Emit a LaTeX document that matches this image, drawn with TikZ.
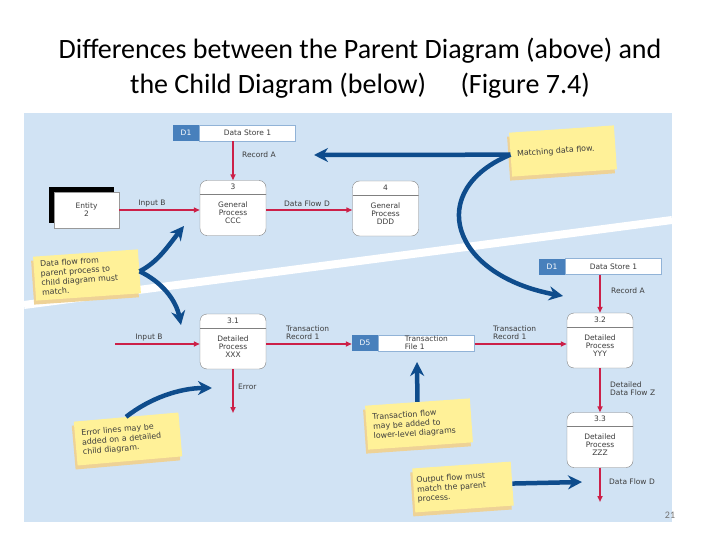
\documentclass[tikz,border=0pt]{standalone}
\usepackage{fontspec}
\setmainfont{Carlito}
\newfontfamily\dfdfont{DejaVu Sans}
\usetikzlibrary{arrows.meta, positioning, shadows}
\definecolor{panelblue}{RGB}{209,227,244}
\definecolor{flowred}{RGB}{204,32,72}
\definecolor{hintblue}{RGB}{14,76,140}
\definecolor{storeblue}{RGB}{72,128,188}
\definecolor{noteyellow}{RGB}{255,241,152}
\definecolor{notetan}{RGB}{238,210,150}
\definecolor{labelgray}{RGB}{60,60,60}

\begin{document}
\begin{tikzpicture}[
  x=1pt, y=-1pt,
  proc/.style={rectangle, draw=black!50, fill=white, rounded corners=7pt,
              minimum width=66pt, minimum height=55pt, align=center,
              font=\dfdfont\fontsize{7.5}{8}\selectfont, text=labelgray,
              path picture={\draw[black!50] (path picture bounding box.north west)
                ++(0,-14pt) -- ++(80pt,0);}},
  ent/.style={rectangle, draw=black!40, fill=white, minimum width=65pt,
              minimum height=36pt, align=center, text=labelgray,
              font=\dfdfont\fontsize{7.5}{8}\selectfont,
              general shadow={fill=black, shadow xshift=-5pt, shadow yshift=5pt}},
  sid/.style={rectangle, fill=storeblue, text=white, minimum width=26pt,
              minimum height=16pt, inner sep=1pt,
              font=\dfdfont\fontsize{7.5}{8}\selectfont},
  sname/.style={rectangle, draw=storeblue!60, fill=white, minimum width=96pt,
              minimum height=16pt, inner ysep=1pt, align=center, text=labelgray,
              font=\dfdfont\fontsize{7.5}{8}\selectfont},
  flow/.style={-{Triangle[length=6pt, width=5pt]}, draw=flowred, line width=2pt},
  lbl/.style={font=\dfdfont\fontsize{7.5}{8}\selectfont, text=labelgray,
              align=left, inner sep=1pt},
  note/.style={rectangle, fill=noteyellow, minimum width=105pt, minimum height=44pt,
              text width=92pt, align=left, text=labelgray,
              font=\dfdfont\fontsize{7.9}{9.5}\selectfont,
              general shadow={fill=notetan, shadow xshift=-2pt, shadow yshift=-4pt}},
  hint/.style={-{Stealth[length=14pt, width=14pt]}, draw=hintblue, line width=4.5pt}
]
  \useasboundingbox (0,0) rectangle (720,540);

  \node[font=\fontsize{28}{35}\selectfont, align=center] (title) at (360,68)
       {Differences between the Parent Diagram (above) and\\
        the Child Diagram (below)\quad\ (Figure 7.4)};

  \fill[panelblue] (24,113) rectangle (672,522);
  \draw[white, line width=8pt] (24,305) -- (672,220);

  % parent diagram
  \node[sid] (d1id) at (186,133) {D1};
  \node[sname, right=0pt of d1id] (d1) {Data Store 1};
  \node[ent] (ent) at (86.5,210) {Entity\\2};
  \node[proc] (p3) at (233,208) {3\\[10pt]General\\Process\\CCC\rule[-8pt]{0pt}{0pt}};
  \node[proc] (p4) at (385.5,208.5) {4\\[10pt]General\\Process\\DDD\rule[-8pt]{0pt}{0pt}};

  \draw[flow] (d1.south -| p3.north) -- (p3.north);
  \draw[flow] (ent.east) -- (p3.west |- ent.east);
  \draw[flow] (p3.east |- ent.east) -- (p4.west |- ent.east);

  \node[lbl, anchor=west] (lRecA) at (241,155) {Record A};
  \node[lbl] (lInB) at (152,204) {Input B};
  \node[lbl] (lFlowD) at (307,204) {Data Flow D};

  % child diagram
  \node[sid] (d1bid) at (552,266.5) {D1};
  \node[sname, right=0pt of d1bid] (d1b) {Data Store 1};
  \node[sid] (d5id) at (365,343) {D5};
  \node[sname, right=0pt of d5id, align=left] (d5) {Transaction\\File 1};
  \node[proc] (p31) at (233,341.5) {3.1\\[10pt]Detailed\\Process\\XXX\rule[-8pt]{0pt}{0pt}};
  \node[proc] (p32) at (600,340.5) {3.2\\[10pt]Detailed\\Process\\YYY\rule[-8pt]{0pt}{0pt}};
  \node[proc] (p33) at (600,440) {3.3\\[10pt]Detailed\\Process\\ZZZ\rule[-8pt]{0pt}{0pt}};
  \coordinate (inB) at (115,344);
  \coordinate (err) at (233,413);
  \coordinate (outD) at (600,502);

  \draw[flow] (inB) -- (p31.west |- inB);
  \draw[flow] (p31.east |- inB) -- (d5id.west |- inB);
  \draw[flow] (d5.east |- inB) -- (p32.west |- inB);
  \draw[flow] (d1b.south -| p32.north) -- (p32.north);
  \draw[flow] (p32.south) -- (p33.north);
  \draw[flow] (p33.south) -- (outD);
  \draw[flow] (p31.south) -- (err);

  \node[lbl] (lInB2) at (149,338) {Input B};
  \node[lbl, anchor=south west] (lTR1) at (285,341) {Transaction\\Record 1};
  \node[lbl, anchor=south west] (lTR2) at (492,341) {Transaction\\Record 1};
  \node[lbl, anchor=west] (lRecA2) at (610,291) {Record A};
  \node[lbl, anchor=west] (lDFZ) at (609,389) {Detailed\\Data Flow Z};
  \node[lbl, anchor=west] (lFlowD2) at (608,482) {Data Flow D};
  \node[lbl, anchor=west] (lErr) at (237,387) {Error};

  % sticky notes
  \node[note, rotate=4] (nMatch) at (563,151) {Matching data flow.};
  \node[note, rotate=4] (nParent) at (87,275)
       {Data flow from\\parent process to\\child diagram must\\match.};
  \node[note, rotate=5] (nError) at (128,439)
       {Error lines may be\\added on a detailed\\child diagram.};
  \node[note, rotate=4] (nTrans) at (419,424)
       {Transaction flow\\may be added to\\lower-level diagrams};
  \node[note, rotate=4, minimum width=95pt] (nOut) at (463,487)
       {Output flow must\\match the parent\\process.};

  \coordinate (tMatch) at (314,155);
  \coordinate (tD1b) at (563,296);
  \coordinate (tP3) at (184,226);
  \coordinate (tP31) at (181,325);
  \coordinate (tErr) at (212,388);
  \coordinate (tTrans) at (417,362);
  \coordinate (tOut) at (582,482);

  \draw[hint] (nMatch.west) -- (tMatch);
  \draw[hint] (nMatch.west) .. controls (425,190) and (450,275) .. (tD1b);
  \draw[hint] (nParent.east) .. controls (158,262) and (168,246) .. (tP3);
  \draw[hint] (nParent.east) .. controls (162,282) and (176,300) .. (tP31);
  \draw[hint] (nError.north) .. controls (150,398) and (180,388) .. (tErr);
  \draw[hint] (nTrans.north) -- (tTrans);
  \draw[hint] (nOut.east) -- (tOut);

  \node[font=\fontsize{10}{12}\selectfont, text=black!55] (pgno) at (670,515) {21};
\end{tikzpicture}
\end{document}
